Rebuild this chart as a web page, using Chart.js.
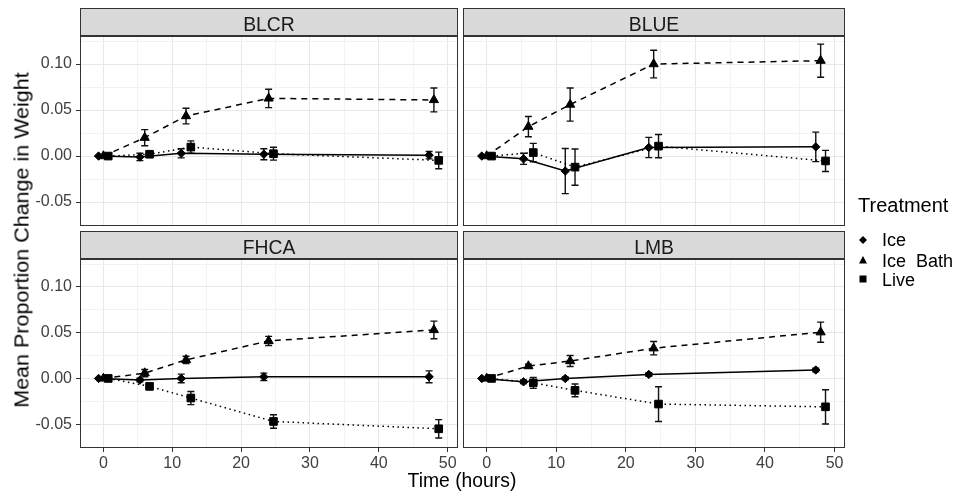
<!DOCTYPE html>
<html>
<head>
<meta charset="utf-8">
<script src="https://cdn.jsdelivr.net/npm/chart.js@4.4.1/dist/chart.umd.min.js"></script>
<style>
  body { margin: 0; width: 970px; height: 493px; overflow: hidden; position: relative; background: #fff; font-family: "Liberation Sans", Arial, sans-serif; }
  canvas.panel { position: absolute; left: 0; top: 0; }
  .strip { position: absolute; height: 28px; background: #d9d9d9; border: 1px solid #333; box-sizing: border-box; }
  .strip span { position: absolute; left: 0; right: 0; top: 1px; text-align: center; font-size: 21px; line-height: 28px; color: #1a1a1a; transform: scaleX(0.92); }
  .title { position: absolute; white-space: nowrap; font-size: 21px; line-height: 21px; color: #000; }
  .legend { position: absolute; white-space: pre; color: #000; }
  .legend svg { position: absolute; }
</style>
</head>
<body>
<canvas class="panel" id="blcr" width="970" height="493"></canvas>
<canvas class="panel" id="blue" width="970" height="493"></canvas>
<canvas class="panel" id="fhca" width="970" height="493"></canvas>
<canvas class="panel" id="lmb" width="970" height="493"></canvas>

<div class="strip" style="left:80px;top:8px;width:378px"><span>BLCR</span></div>
<div class="strip" style="left:463px;top:8px;width:382px"><span>BLUE</span></div>
<div class="strip" style="left:80px;top:231px;width:378px"><span>FHCA</span></div>
<div class="strip" style="left:463px;top:231px;width:382px"><span>LMB</span></div>

<div class="title" style="left:23px;top:240px;font-size:21.5px;transform:translate(-50%,-50%) rotate(-90deg) scaleY(0.92)">Mean Proportion Change in Weight</div>
<div class="title" style="left:462px;top:469px;transform:translateX(-50%) scaleX(0.92)">Time (hours)</div>

<div class="legend" style="left:858px;top:195px;font-size:20px;line-height:20px">Treatment</div>
<svg class="legend" style="left:858px;top:235px" width="10" height="10"><polygon points="5,1 9,5 5,9 1,5" fill="#000"/></svg>
<div class="legend" style="left:882px;top:231px;font-size:18px;line-height:18px">Ice</div>
<svg class="legend" style="left:858px;top:255px" width="10" height="10"><polygon points="5,1 9,8.5 1,8.5" fill="#000"/></svg>
<div class="legend" style="left:882px;top:252px;font-size:18px;line-height:18px">Ice  Bath</div>
<svg class="legend" style="left:858px;top:274px" width="10" height="10"><rect x="1.5" y="1.5" width="7" height="7" fill="#000"/></svg>
<div class="legend" style="left:882px;top:271px;font-size:18px;line-height:18px">Live</div>

<script>
"use strict";

const times = [0, 6, 12, 24, 48];
const xMajor = [0, 10, 20, 30, 40, 50];
const yMajor = [-0.05, 0, 0.05, 0.10];

const blcrIce = [0, -0.001, 0.003, 0.002, 0.001];
const blcrIceErr = [0, 0.004, 0.005, 0.006, 0.004];
const blcrBath = [0, 0.020, 0.0435, 0.0627, 0.061];
const blcrBathErr = [0, 0.0087, 0.0085, 0.010, 0.013];
const blcrLive = [0, 0.002, 0.0098, 0.0026, -0.0047];
const blcrLiveErr = [0, 0.002, 0.0067, 0.007, 0.009];

const blueIce = [0, -0.003, -0.0163, 0.0093, 0.010];
const blueIceErr = [0, 0.006, 0.0245, 0.011, 0.016];
const blueBath = [0, 0.032, 0.056, 0.100, 0.1037];
const blueBathErr = [0, 0.011, 0.018, 0.015, 0.018];
const blueLive = [0, 0.0038, -0.012, 0.0108, -0.0053];
const blueLiveErr = [0, 0.010, 0.0197, 0.0126, 0.0115];

const fhcaIce = [0, -0.0018, 0, 0.0018, 0.0018];
const fhcaIceErr = [0, 0.002, 0.0047, 0.004, 0.0065];
const fhcaBath = [0, 0.0058, 0.0203, 0.041, 0.053];
const fhcaBathErr = [0, 0.004, 0.004, 0.005, 0.0096];
const fhcaLive = [0, -0.0087, -0.0214, -0.047, -0.055];
const fhcaLiveErr = [0, 0.003, 0.0072, 0.0074, 0.010];

const lmbIce = [0, -0.0037, 0, 0.0044, 0.0092];
const lmbIceErr = [0, 0.002, 0.0015, 0.002, 0.002];
const lmbBath = [0, 0.0135, 0.019, 0.033, 0.0505];
const lmbBathErr = [0, 0.002, 0.006, 0.0073, 0.011];
const lmbLive = [0, -0.0048, -0.013, -0.028, -0.031];
const lmbLiveErr = [0, 0.006, 0.007, 0.019, 0.0187];

Chart.defaults.font.family = "'Liberation Sans', Arial, sans-serif";

const GRID_MAJOR = "#e8e8e8";
const GRID_MINOR = "#f2f2f2";
const DODGE = 0.7;

function isMajor(list, v) {
  return list.some((m) => Math.abs(m - v) < 1e-9);
}

// minor lines sit halfway between majors, like ggplot
function withMinor(major, lo, hi) {
  const step = major[1] - major[0];
  const out = [];
  for (let v = major[0] - step / 2; v <= major[major.length - 1] + step / 2 + 1e-9; v += step / 2) {
    if (v >= lo && v <= hi) out.push(+v.toFixed(4));
  }
  return out;
}

const errorBarPlugin = {
  id: "errorBars",
  beforeDatasetsDraw(chart) {
    const { ctx, scales: { x, y } } = chart;
    ctx.save();
    ctx.strokeStyle = "#111";
    ctx.lineWidth = 1.4;
    chart.data.datasets.forEach((ds) => {
      ds.data.forEach((p, i) => {
        const e = ds.errors[i];
        const px = x.getPixelForValue(p.x);
        const top = y.getPixelForValue(p.y + e);
        const bot = y.getPixelForValue(p.y - e);
        ctx.beginPath();
        ctx.moveTo(px, top); ctx.lineTo(px, bot);
        ctx.moveTo(px - 3.5, top); ctx.lineTo(px + 3.5, top);
        ctx.moveTo(px - 3.5, bot); ctx.lineTo(px + 3.5, bot);
        ctx.stroke();
      });
    });
    ctx.restore();
  },
  afterDraw(chart) {
    const { ctx, chartArea: a } = chart;
    ctx.save();
    ctx.strokeStyle = "#333";
    ctx.lineWidth = 1;
    ctx.strokeRect(a.left + 0.5, a.top + 0.5, a.right - a.left - 1, a.bottom - a.top - 1);
    ctx.restore();
  }
};

function series(vals, errs, offset, style) {
  return Object.assign({
    data: times.map((t, i) => ({ x: t + offset, y: vals[i] })),
    errors: errs,
    borderColor: "#000",
    backgroundColor: "#000",
    pointBackgroundColor: "#000",
    pointBorderColor: "#000",
    pointBorderWidth: 1,
    borderWidth: 1.5,
    tension: 0
  }, style);
}

function renderPanel(id, area, sets, showX, showY) {
  const yW = showY ? 48 : 0;
  const xH = showX ? 26 : 0;
  const xMin = -3.4, xMax = 51.5, yMin = -0.076, yMax = 0.1305;
  const xGrid = withMinor(xMajor, xMin, xMax);
  const yGrid = withMinor(yMajor, yMin, yMax);

  return new Chart(document.getElementById(id), {
    type: "line",
    data: {
      datasets: [
        series(sets[0], sets[1], -DODGE, { pointStyle: "rectRot", pointRadius: 4.2 }),
        series(sets[2], sets[3], 0, { pointStyle: "triangle", pointRadius: 5.3, borderDash: [6, 5] }),
        series(sets[4], sets[5], DODGE, { pointStyle: "rect", pointRadius: 5.4, borderDash: [1.5, 3.5] })
      ]
    },
    options: {
      responsive: false,
      animation: false,
      layout: {
        padding: { left: area.left - yW, right: 970 - area.right, top: area.top, bottom: 493 - area.bottom - xH }
      },
      plugins: { legend: { display: false }, tooltip: { enabled: false } },
      scales: {
        x: {
          type: "linear",
          min: xMin,
          max: xMax,
          afterBuildTicks: (s) => { s.ticks = xGrid.map((v) => ({ value: v })); },
          afterFit: (s) => { s.height = xH; },
          border: { display: false },
          grid: {
            color: (c) => (isMajor(xMajor, c.tick.value) ? GRID_MAJOR : GRID_MINOR),
            lineWidth: 1,
            drawTicks: showX,
            tickLength: 4,
            tickColor: (c) => (isMajor(xMajor, c.tick.value) ? "#333" : "rgba(0,0,0,0)")
          },
          ticks: {
            display: showX,
            autoSkip: false,
            maxRotation: 0,
            padding: 2,
            color: "#404040",
            font: { size: 16 },
            callback: (v) => (isMajor(xMajor, v) ? String(v) : "")
          }
        },
        y: {
          type: "linear",
          min: yMin,
          max: yMax,
          afterBuildTicks: (s) => { s.ticks = yGrid.map((v) => ({ value: v })); },
          afterFit: (s) => { s.width = yW; },
          border: { display: false },
          grid: {
            color: (c) => (isMajor(yMajor, c.tick.value) ? GRID_MAJOR : GRID_MINOR),
            lineWidth: 1,
            drawTicks: showY,
            tickLength: 4,
            tickColor: (c) => (isMajor(yMajor, c.tick.value) ? "#333" : "rgba(0,0,0,0)")
          },
          ticks: {
            display: showY,
            autoSkip: false,
            padding: 4,
            color: "#404040",
            font: { size: 16 },
            callback: (v) => (isMajor(yMajor, v) ? v.toFixed(2) : "")
          }
        }
      }
    },
    plugins: [errorBarPlugin]
  });
}

renderPanel("blcr", { left: 80, right: 458, top: 36, bottom: 226 },
  [blcrIce, blcrIceErr, blcrBath, blcrBathErr, blcrLive, blcrLiveErr], false, true);
renderPanel("blue", { left: 463, right: 845, top: 36, bottom: 226 },
  [blueIce, blueIceErr, blueBath, blueBathErr, blueLive, blueLiveErr], false, false);
renderPanel("fhca", { left: 80, right: 458, top: 259, bottom: 448 },
  [fhcaIce, fhcaIceErr, fhcaBath, fhcaBathErr, fhcaLive, fhcaLiveErr], true, true);
renderPanel("lmb", { left: 463, right: 845, top: 259, bottom: 448 },
  [lmbIce, lmbIceErr, lmbBath, lmbBathErr, lmbLive, lmbLiveErr], true, false);
</script>
</body>
</html>
